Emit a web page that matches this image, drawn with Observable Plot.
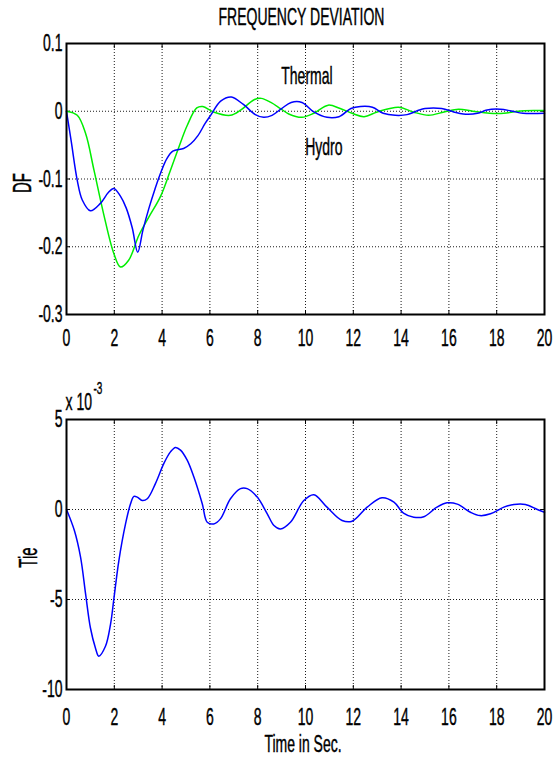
<!DOCTYPE html>
<html>
<head>
<meta charset="utf-8">
<script src="https://cdn.jsdelivr.net/npm/d3@7"></script>
<script src="https://cdn.jsdelivr.net/npm/@observablehq/plot@0.6"></script>
<style>
  html, body { margin: 0; padding: 0; background: #fff; }
  #chart svg { display: block; }
</style>
</head>
<body>
<div id="chart"></div>
<script>
// ---- data ----
const titleText = "FREQUENCY DEVIATION";
const xLabel = "Time in Sec.";
const yLabelTop = "DF";
const yLabelBottom = "Tie";
const exponentBase = "x 10";
const exponentPower = "-3";

const xTicks = [0, 2, 4, 6, 8, 10, 12, 14, 16, 18, 20];
const yTicksTop = [-0.3, -0.2, -0.1, 0, 0.1];
const yTicksBottom = [-10, -5, 0, 5];

// Hydro frequency deviation (blue)
const hydroT = [0, 0.2, 0.45, 0.66, 1.0, 1.42, 1.75, 1.98, 2.25, 2.5, 2.75, 2.98, 3.2, 3.45, 3.7, 3.95, 4.2, 4.45, 4.9, 5.2, 5.5, 5.8, 6.05, 6.45, 6.9, 7.4, 7.9, 8.25, 8.6, 9.0, 9.4, 9.85, 10.35, 10.9, 11.4, 11.9, 12.3, 12.8, 13.25, 13.75, 14.25, 14.7, 15.0, 15.7, 16.2, 16.6, 17.2, 17.6, 18.15, 18.6, 19.1, 20];
const hydroV = [0, -0.045, -0.102, -0.131, -0.147, -0.136, -0.12, -0.114, -0.125, -0.143, -0.172, -0.208, -0.175, -0.143, -0.115, -0.09, -0.07, -0.059, -0.055, -0.048, -0.036, -0.018, -0.005, 0.015, 0.021, 0.01, -0.005, -0.009, -0.006, 0.004, 0.013, 0.013, -0.001, -0.009, -0.008, 0.004, 0.007, 0.006, -0.003, -0.006, -0.005, 0.001, 0.004, 0.004, -0.001, -0.004, -0.003, 0.002, 0.003, 0.0005, -0.003, -0.003];

// Thermal frequency deviation (green)
const thermalT = [0, 0.45, 0.8, 1.15, 1.55, 1.98, 2.26, 2.6, 3.03, 3.45, 3.93, 4.35, 4.7, 5.05, 5.45, 5.7, 6.15, 6.85, 7.3, 7.85, 8.15, 8.55, 8.95, 9.3, 9.85, 10.35, 10.95, 11.45, 11.95, 12.45, 13.0, 13.9, 14.5, 15.15, 15.8, 16.4, 17.0, 17.7, 18.3, 18.9, 19.6, 20];
const thermalV = [0, -0.006, -0.033, -0.087, -0.151, -0.21, -0.23, -0.22, -0.183, -0.156, -0.126, -0.087, -0.053, -0.021, 0.005, 0.007, -0.001, -0.006, 0.002, 0.017, 0.019, 0.013, 0.004, -0.004, -0.009, -0.003, 0.009, 0.004, -0.003, -0.008, -0.001, 0.006, -0.001, -0.006, -0.001, 0.003, 0.0, -0.003, -0.003, 0, 0.001, 0.001];

// Tie-line power deviation, in units of 1e-3 (blue)
const tieT = [0, 0.33, 0.59, 0.8, 1.0, 1.21, 1.35, 1.63, 1.84, 1.98, 2.19, 2.47, 2.68, 2.82, 2.96, 3.17, 3.38, 3.72, 4.07, 4.35, 4.56, 4.77, 5.05, 5.33, 5.68, 5.89, 6.16, 6.44, 6.86, 7.28, 7.56, 7.98, 8.4, 8.68, 8.95, 9.37, 9.93, 10.35, 10.9, 11.53, 11.95, 12.58, 13.2, 13.7, 14.1, 14.53, 14.95, 15.5, 15.92, 16.35, 16.9, 17.3, 17.74, 18.3, 18.72, 19.2, 19.7, 20];
const tieV = [0, -1.17, -2.66, -4.7, -6.57, -7.69, -8.15, -7.6, -6.39, -4.99, -2.85, -0.8, 0.32, 0.73, 0.69, 0.5, 0.6, 1.44, 2.55, 3.2, 3.45, 3.3, 2.74, 1.8, 0.32, -0.71, -0.8, -0.52, 0.6, 1.16, 1.16, 0.69, -0.24, -0.89, -1.08, -0.71, 0.5, 0.82, 0.13, -0.61, -0.65, 0.13, 0.65, 0.41, -0.2, -0.43, -0.4, 0.13, 0.37, 0.3, -0.15, -0.34, -0.24, 0.13, 0.28, 0.28, 0.0, -0.15];

// curve name annotations (data coordinates)
const curveNames = ["Thermal", "Hydro"];
const curveNameT = [10.06, 10.77];
const curveNameV = [0.0515, -0.053];

// ---- build tables ----
const hydro = hydroT.map((t, i) => ({t, v: hydroV[i]}));
const thermal = thermalT.map((t, i) => ({t, v: thermalV[i]}));
const tie = tieT.map((t, i) => ({t, v: tieV[i]}));
const names = curveNames.map((n, i) => ({name: n, t: curveNameT[i], v: curveNameV[i]}));

const FONT = "'Liberation Sans', Arial, Helvetica, sans-serif";
const fmt = d => String(d);
const blank = () => "";
const gridStyle = {stroke: "black", strokeOpacity: 0.9, strokeWidth: 1, strokeDasharray: "1,2"};

function frameMarks(yTicks, xPad) {
  return [
    Plot.gridX(xTicks.slice(1, -1), gridStyle),
    Plot.gridY(yTicks.slice(1, -1), gridStyle),
    Plot.axisX(xTicks, {anchor: "bottom", tickSize: 0, tickPadding: xPad, fontSize: 14, tickFormat: fmt, label: null, fill: "black"}),
    Plot.axisX(xTicks, {anchor: "bottom", tickSize: 4, dy: -4, tickFormat: blank, label: null, stroke: "black"}),
    Plot.axisX(xTicks, {anchor: "top", tickSize: 4, dy: 4, tickFormat: blank, label: null, stroke: "black"}),
    Plot.axisY(yTicks, {anchor: "left", tickSize: 0, tickPadding: 4, fontSize: 14, tickFormat: fmt, label: null, fill: "black"}),
    Plot.axisY(yTicks, {anchor: "left", tickSize: 4, dx: 4, tickFormat: blank, label: null, stroke: "black"}),
    Plot.axisY(yTicks, {anchor: "right", tickSize: 4, dx: -4, tickFormat: blank, label: null, stroke: "black"})
  ];
}

const topChart = Plot.plot({
  width: 558,
  height: 352,
  marginLeft: 66,
  marginRight: 14,
  marginTop: 43,
  marginBottom: 38,
  style: {fontFamily: FONT, fontSize: "14px", color: "black", background: "white", overflow: "visible"},
  x: {domain: [0, 20]},
  y: {domain: [-0.3, 0.1]},
  marks: [
    ...frameMarks(yTicksTop, 15),
    Plot.line(thermal, {x: "t", y: "v", stroke: "#00ee00", strokeWidth: 1.5, curve: "catmull-rom"}),
    Plot.line(hydro, {x: "t", y: "v", stroke: "#0000ff", strokeWidth: 1.5, curve: "catmull-rom"}),
    Plot.frame({stroke: "black", strokeWidth: 2}),
    Plot.text(names, {x: "t", y: "v", text: "name", fontSize: 14, fill: "black", textAnchor: "middle", lineAnchor: "middle"}),
    Plot.text([titleText], {frameAnchor: "top", dx: -4, dy: -26, fontSize: 14, fill: "black", textAnchor: "middle", lineAnchor: "middle"}),
    Plot.text([yLabelTop], {frameAnchor: "left", dx: -43.5, dy: 4, rotate: -90, fontSize: 15, fill: "black", textAnchor: "middle", lineAnchor: "middle", ariaLabel: "ylabel-top"})
  ]
});

const bottomChart = Plot.plot({
  width: 558,
  height: 405,
  marginLeft: 66,
  marginRight: 14,
  marginTop: 67,
  marginBottom: 68,
  style: {fontFamily: FONT, fontSize: "14px", color: "black", background: "white", overflow: "visible"},
  x: {domain: [0, 20]},
  y: {domain: [-10, 5]},
  marks: [
    ...frameMarks(yTicksBottom, 19),
    Plot.line(tie, {x: "t", y: "v", stroke: "#0000ff", strokeWidth: 1.5, curve: "catmull-rom"}),
    Plot.frame({stroke: "black", strokeWidth: 2}),
    Plot.text([exponentBase], {frameAnchor: "top-left", dx: -1, dy: -17, fontSize: 14, fill: "black", textAnchor: "start", lineAnchor: "middle", ariaLabel: "exponent"}),
    Plot.text([exponentPower], {frameAnchor: "top-left", dx: 27, dy: -31, fontSize: 10, fill: "black", textAnchor: "start", lineAnchor: "middle", ariaLabel: "exponent"}),
    Plot.text([xLabel], {frameAnchor: "bottom", dx: -2.5, dy: 55, fontSize: 14, fill: "black", textAnchor: "middle", lineAnchor: "middle"}),
    Plot.text([yLabelBottom], {frameAnchor: "left", dx: -38, dy: 3, rotate: -90, fontSize: 15, fill: "black", textAnchor: "middle", lineAnchor: "middle", ariaLabel: "ylabel-bottom"})
  ]
});

// The reference's lettering is drawn tall and narrow: stretch each text about its own anchor.
function stretchText(svg) {
  svg.querySelectorAll("text").forEach(t => {
    const tr = t.getAttribute("transform") || "";
    const g = t.closest("g[aria-label]");
    const lab = g ? g.getAttribute("aria-label") : "";
    let s;
    if (lab === "ylabel-top") s = " scale(1.25,1)";
    else if (lab === "ylabel-bottom") s = " scale(1.45,1)";
    else if (lab === "exponent") s = " scale(1,1.3)";
    else s = " scale(1,1.7)";
    t.setAttribute("transform", tr + s);
    t.style.stroke = "black";
    t.style.strokeWidth = "0.25px";
  });
}
stretchText(topChart);
stretchText(bottomChart);

document.getElementById("chart").append(topChart, bottomChart);
</script>
</body>
</html>
